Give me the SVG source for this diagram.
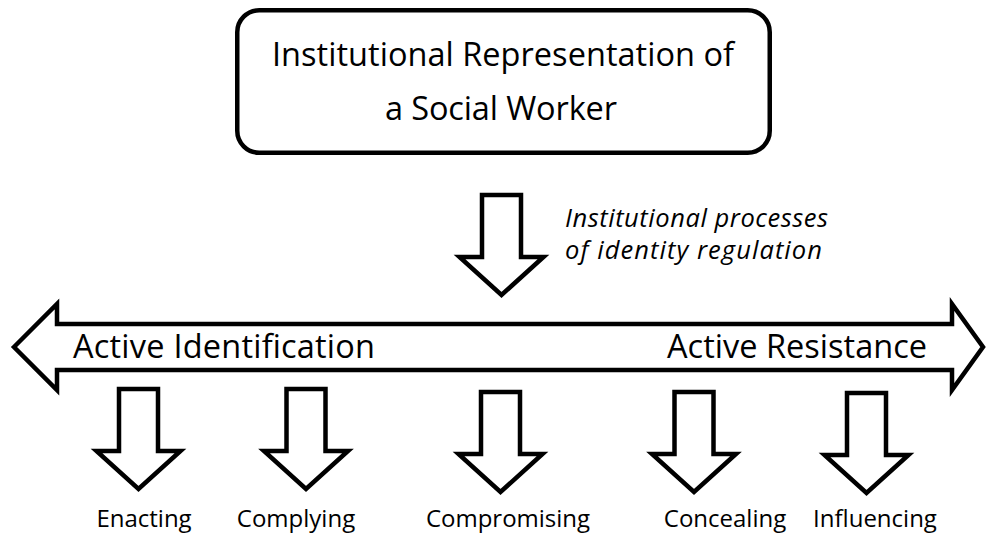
<svg xmlns="http://www.w3.org/2000/svg" xmlns:xlink="http://www.w3.org/1999/xlink" width="986" height="535" viewBox="0 0 986 535">
<style>
.shape{fill:#fff;stroke:#000;stroke-width:4.5;stroke-linejoin:miter;stroke-miterlimit:10}
.t{font-family:"Open Sans","Noto Sans","Liberation Sans",sans-serif;fill:#000}
.big{font-size:32.5px}
.lab{font-size:24px;text-anchor:middle}
.it{font-size:25.5px;font-style:italic}
</style>
<defs>
<path id="darrow" d="M-19.5 0 H19.5 V62 H42 L0 100 L-42 62 H-19.5 Z"/>
</defs>
<rect width="986" height="535" fill="#fff"/>
<g id="institution">
<rect class="shape" x="237.25" y="10.25" width="532.5" height="142.5" rx="22" ry="22"/>
<text class="t big" x="272" y="66" textLength="462">Institutional Representation of</text>
<text class="t big" x="385" y="120" textLength="232">a Social Worker</text>
</g>
<g id="connectors">
<use xlink:href="#darrow" href="#darrow" class="shape" transform="translate(501.5,195)"/>
<text class="t it" x="565" y="227" textLength="263">Institutional processes</text>
<text class="t it" x="565" y="259" textLength="257">of identity regulation</text>
</g>
<g id="spectrum">
<path class="shape" d="M14 347 L57 304 V324 H952 V304 L983 347 L952 390 V370 H57 V390 Z"/>
<text class="t big" x="73" y="358" textLength="302">Active Identification</text>
<text class="t big" x="667" y="358" textLength="260">Active Resistance</text>
</g>
<g id="enacting">
<use xlink:href="#darrow" href="#darrow" class="shape" transform="translate(138.5,389)"/>
<text class="t lab" x="144" y="527">Enacting</text>
</g>
<g id="complying">
<use xlink:href="#darrow" href="#darrow" class="shape" transform="translate(306,389)"/>
<text class="t lab" x="296" y="527">Complying</text>
</g>
<g id="compromising">
<use xlink:href="#darrow" href="#darrow" class="shape" transform="translate(500.5,392)"/>
<text class="t lab" x="508" y="527">Compromising</text>
</g>
<g id="concealing">
<use xlink:href="#darrow" href="#darrow" class="shape" transform="translate(694,392)"/>
<text class="t lab" x="725" y="527">Concealing</text>
</g>
<g id="influencing">
<use xlink:href="#darrow" href="#darrow" class="shape" transform="translate(866.5,393)"/>
<text class="t lab" x="875" y="527">Influencing</text>
</g>
</svg>
